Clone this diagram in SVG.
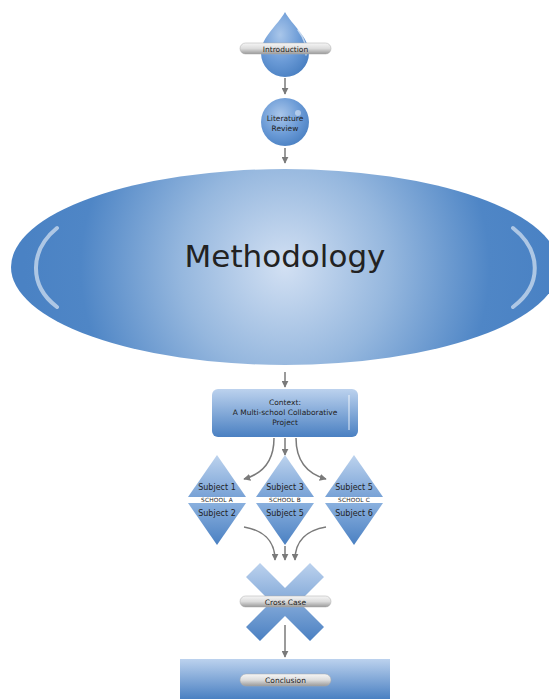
<svg xmlns="http://www.w3.org/2000/svg" width="549" height="699" viewBox="0 0 549 699">
<defs>
<radialGradient id="gEll" gradientUnits="userSpaceOnUse" cx="285" cy="267" r="262">
<stop offset="0" stop-color="#d2e0f3"/>
<stop offset="0.4" stop-color="#95b7de"/>
<stop offset="0.78" stop-color="#4f86c6"/>
<stop offset="1" stop-color="#4a82c4"/>
</radialGradient>
<radialGradient id="gDrop" cx="0.4" cy="0.35" r="0.7">
<stop offset="0" stop-color="#a9c6ea"/>
<stop offset="0.6" stop-color="#6a9ad6"/>
<stop offset="1" stop-color="#4a80c2"/>
</radialGradient>
<linearGradient id="gBox" x1="0" y1="0" x2="0" y2="1">
<stop offset="0" stop-color="#bcd2ee"/>
<stop offset="1" stop-color="#4a80c2"/>
</linearGradient>
<linearGradient id="gTop" x1="0" y1="0" x2="0" y2="1">
<stop offset="0" stop-color="#bdd3ee"/>
<stop offset="1" stop-color="#78a2d6"/>
</linearGradient>
<linearGradient id="gBot" x1="0" y1="0" x2="0" y2="1">
<stop offset="0" stop-color="#8ab0de"/>
<stop offset="1" stop-color="#4a80c2"/>
</linearGradient>
<linearGradient id="gPill" x1="0" y1="0" x2="0" y2="1">
<stop offset="0" stop-color="#f6f6f6"/>
<stop offset="0.5" stop-color="#dcdcdc"/>
<stop offset="1" stop-color="#9a9a9a"/>
</linearGradient>
<marker id="ah" viewBox="0 0 10 10" refX="9" refY="5" markerWidth="7" markerHeight="7" markerUnits="userSpaceOnUse" orient="auto">
<path d="M0,0 L10,5 L0,10 Z" fill="#7a7a7a"/>
</marker>
<clipPath id="cView"><rect x="0" y="0" width="549" height="699"/></clipPath>
</defs>
<style>
.lbl{font-family:"DejaVu Sans",Verdana,sans-serif;fill:#222;text-anchor:middle}
.pill{fill:url(#gPill);stroke:#aaa;stroke-width:0.5}
.con{fill:none;stroke:#7a7a7a;stroke-width:1.5;marker-end:url(#ah)}
.hl{fill:none;stroke:#ffffff;stroke-opacity:0.55;stroke-width:4;stroke-linecap:round}
.sch{font-size:5.8px;letter-spacing:0.2px}
</style>

<g id="connectors">
<path class="con" d="M285,78 V94"/>
<path class="con" d="M285,148 V163"/>
<path class="con" d="M285,372 V387"/>
<path class="con" d="M285,438 V455"/>
<path class="con" d="M274,438 C274,462 262,474 244,479"/>
<path class="con" d="M296,438 C296,462 308,474 326,479"/>
<path class="con" d="M244,527 C262,530 275,540 275,560"/>
<path class="con" d="M285,546 V560"/>
<path class="con" d="M326,527 C308,530 295,540 295,560"/>
<path class="con" d="M285,625 V657"/>
</g>

<g id="introduction">
<path d="M285,12 C292,25 309,37 309,53 A24,24 0 0 1 261,53 C261,37 278,25 285,12 Z" fill="url(#gDrop)"/>
<path d="M298,30 C304,38 307,46 306,55" fill="none" stroke="#fff" stroke-opacity="0.6" stroke-width="1.5" stroke-linecap="round"/>
<rect class="pill" x="240" y="43" width="91" height="11" rx="5.5"/>
<text class="lbl" x="285.5" y="51.5" font-size="7.5">Introduction</text>
</g>

<g id="literature-review">
<circle cx="285" cy="122" r="24" fill="url(#gDrop)"/>
<circle cx="298" cy="113" r="3" fill="#fff" fill-opacity="0.45"/>
<text class="lbl" x="285" y="121" font-size="7.5">Literature</text>
<text class="lbl" x="285" y="131" font-size="7.5">Review</text>
</g>

<g id="methodology" clip-path="url(#cView)">
<ellipse cx="285" cy="267" rx="274" ry="98" fill="url(#gEll)"/>
<path class="hl" d="M57,228 C30,250 28,285 57,307"/>
<path class="hl" d="M513,228 C541,250 543,285 513,307"/>
<text class="lbl" x="285" y="267" font-size="31" fill="#111">Methodology</text>
</g>

<g id="context">
<rect x="212" y="389" width="146" height="48" rx="6" fill="url(#gBox)"/>
<path d="M349,395 V430" stroke="#fff" stroke-opacity="0.55" stroke-width="1.5"/>
<text class="lbl" x="285" y="405" font-size="7.5">Context:</text>
<text class="lbl" x="285" y="415" font-size="7.5">A Multi-school Collaborative</text>
<text class="lbl" x="285" y="425" font-size="7.5">Project</text>
</g>

<g id="school-a">
<path d="M217,455 L246,497 H188 Z" fill="url(#gTop)"/>
<path d="M188,503 H246 L217,545 Z" fill="url(#gBot)"/>
<text class="lbl" x="217" y="490" font-size="8">Subject 1</text>
<text class="lbl sch" x="217" y="502">SCHOOL A</text>
<text class="lbl" x="217" y="516" font-size="8">Subject 2</text>
</g>

<g id="school-b">
<path d="M285,455 L314,497 H256 Z" fill="url(#gTop)"/>
<path d="M256,503 H314 L285,545 Z" fill="url(#gBot)"/>
<text class="lbl" x="285" y="490" font-size="8">Subject 3</text>
<text class="lbl sch" x="285" y="502">SCHOOL B</text>
<text class="lbl" x="285" y="516" font-size="8">Subject 5</text>
</g>

<g id="school-c">
<path d="M354,455 L383,497 H325 Z" fill="url(#gTop)"/>
<path d="M325,503 H383 L354,545 Z" fill="url(#gBot)"/>
<text class="lbl" x="354" y="490" font-size="8">Subject 5</text>
<text class="lbl sch" x="354" y="502">SCHOOL C</text>
<text class="lbl" x="354" y="516" font-size="8">Subject 6</text>
</g>

<g id="cross-case">
<path d="M260,563 L285,588 L310,563 L324,577 L299,602 L324,627 L310,641 L285,616 L260,641 L246,627 L271,602 L246,577 Z" fill="url(#gBox)"/>
<rect class="pill" x="240" y="596" width="91" height="11" rx="5.5"/>
<text class="lbl" x="285.5" y="604.5" font-size="7.5">Cross Case</text>
</g>

<g id="conclusion">
<rect x="180" y="659" width="210" height="40" fill="url(#gBox)"/>
<rect class="pill" x="240" y="674" width="91" height="12" rx="6"/>
<text class="lbl" x="285.5" y="683" font-size="7.5">Conclusion</text>
</g>
</svg>
